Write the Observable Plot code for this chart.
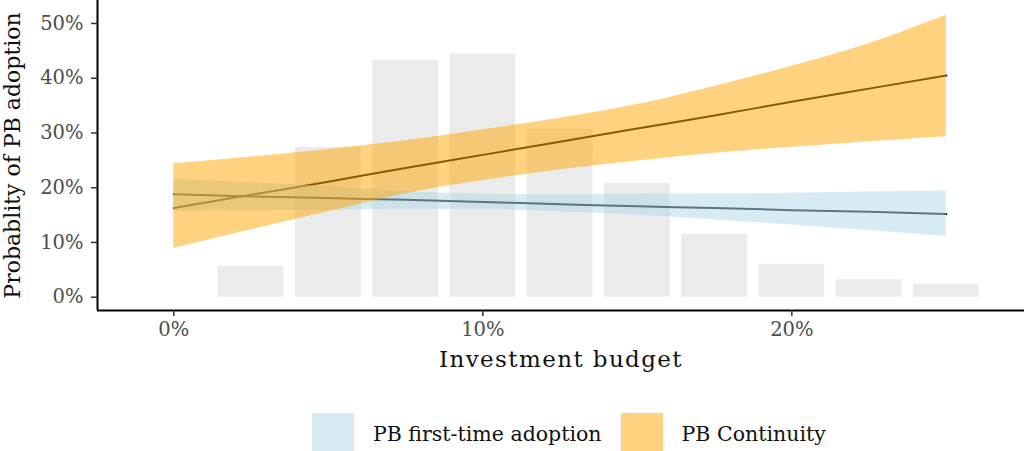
<!DOCTYPE html>
<html>
<head>
<meta charset="utf-8">
<script src="https://cdn.jsdelivr.net/npm/d3@7"></script>
<script src="https://cdn.jsdelivr.net/npm/@observablehq/plot@0.6"></script>
<style>
  html, body { margin: 0; padding: 0; background: #fff; width: 1024px; height: 451px; overflow: hidden; }
  #wrap { position: relative; width: 1024px; height: 451px; font-family: "DejaVu Serif", serif; }
  #legend { position: absolute; left: 312px; top: 413px; display: flex; align-items: center; font-size: 20.5px; color: #111; }
  .sw { width: 42px; height: 42px; }
  .lab { margin-left: 19px; margin-right: 19px; white-space: nowrap; }
</style>
</head>
<body>
<div id="wrap"><div id="chart"></div><div id="legend"></div></div>
<script>
// Histogram of investment budget (bin centres, % of municipalities)
const binCenters = [2.5, 5, 7.5, 10, 12.5, 15, 17.5, 20, 22.5, 25];
const binShares  = [5.6, 27.4, 43.2, 44.4, 30.7, 20.8, 11.5, 6.0, 3.2, 2.4];
const binWidth = 2.5;

// Predicted probabilities (investment budget, %)
const budget = [0, 2.5, 5, 7.5, 10, 12.5, 15, 17.5, 20, 22.5, 25];
const contFit   = [16.3, 18.7, 21.1, 23.6, 26.0, 28.4, 30.8, 33.2, 35.7, 38.1, 40.5];
const contLow   = [8.9, 12.3, 15.6, 18.9, 21.3, 23.3, 24.9, 26.3, 27.4, 28.4, 29.3];
const contHigh  = [24.4, 25.6, 27.0, 28.6, 30.6, 32.7, 35.2, 38.5, 42.2, 46.3, 51.5];
const firstFit  = [18.8, 18.4, 18.1, 17.8, 17.4, 17.0, 16.6, 16.3, 15.9, 15.6, 15.2];
const firstLow  = [15.7, 15.8, 15.9, 16.0, 16.0, 15.6, 15.0, 14.1, 13.2, 12.2, 11.1];
const firstHigh = [21.6, 20.9, 20.2, 19.3, 18.8, 18.7, 18.8, 18.9, 19.0, 19.2, 19.4];

const seriesNames = ["PB first-time adoption", "PB Continuity"];
const seriesColors = ["lightblue", "orange"];
const xTicks = [0, 10, 20];
const yTicks = [0, 10, 20, 30, 40, 50];
const xDomain = [-2.47, 27.53];
const yDomain = [-2.43, 54.2];
const xTitle = "Investment budget";
const yTitle = "Probablity of PB adoption";

const bins = binCenters.map((c, i) => ({x1: c - binWidth / 2, x2: c + binWidth / 2, share: binShares[i]}));
const first = budget.map((b, i) => ({b, fit: firstFit[i], lo: firstLow[i], hi: firstHigh[i], s: seriesNames[0]}));
const cont  = budget.map((b, i) => ({b, fit: contFit[i], lo: contLow[i], hi: contHigh[i], s: seriesNames[1]}));

const chart = Plot.plot({
  width: 1024,
  height: 405,
  marginLeft: 97,
  marginRight: 0,
  marginTop: 0,
  marginBottom: 95,
  style: {fontFamily: "DejaVu Serif", background: "white"},
  x: {domain: xDomain},
  y: {domain: yDomain},
  color: {domain: seriesNames, range: seriesColors},
  marks: [
    Plot.rectY(bins, {x1: "x1", x2: "x2", y: "share", fill: "#ebebeb", insetLeft: 5.7, insetRight: 5.7}),
    Plot.line(first, {x: "b", y: "fit", stroke: "#111", strokeWidth: 2, curve: "monotone-x"}),
    Plot.line(cont, {x: "b", y: "fit", stroke: "#111", strokeWidth: 2, curve: "monotone-x"}),
    Plot.areaY(first, {x: "b", y1: "lo", y2: "hi", fill: "s", fillOpacity: 0.5, curve: "monotone-x"}),
    Plot.areaY(cont, {x: "b", y1: "lo", y2: "hi", fill: "s", fillOpacity: 0.5, curve: "monotone-x"}),
    Plot.ruleX([xDomain[0]], {stroke: "#000", strokeWidth: 2}),
    Plot.ruleY([yDomain[0]], {stroke: "#000", strokeWidth: 2}),
    Plot.axisY({ticks: yTicks, tickFormat: d => d + "%", tickSize: 6, tickPadding: 8, fontSize: 19.5, color: "#4d4d4d", strokeWidth: 1.5, stroke: "#333", label: null}),
    Plot.axisX({ticks: xTicks, tickFormat: d => d + "%", tickSize: 6, tickPadding: 6, fontSize: 19.5, color: "#4d4d4d", strokeWidth: 1.5, stroke: "#333", label: null}),
    Plot.text([yTitle], {frameAnchor: "left", textAnchor: "middle", rotate: -90, dx: -85, fontSize: 22, fill: "#111"}),
    Plot.text([xTitle], {frameAnchor: "bottom", textAnchor: "middle", dy: 56, fontSize: 23, fill: "#111"})
  ]
});
// widen the x-axis title a little, as in the reference
d3.select(chart).selectAll("text").filter(function() { return this.textContent === xTitle; })
  .attr("letter-spacing", "1.4px");
document.getElementById("chart").appendChild(chart);

const legend = document.getElementById("legend");
const swatchColors = ["#d6ecf2", "#ffd280"];
seriesNames.forEach((n, i) => {
  const sw = document.createElement("div");
  sw.className = "sw";
  sw.style.background = swatchColors[i];
  const lab = document.createElement("div");
  lab.className = "lab";
  lab.textContent = n;
  legend.appendChild(sw);
  legend.appendChild(lab);
});
</script>
</body>
</html>
